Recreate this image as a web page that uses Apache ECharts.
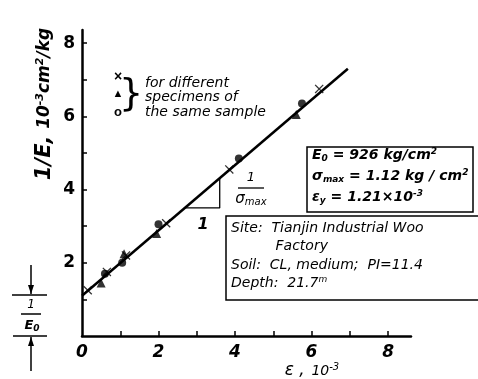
<!DOCTYPE html>
<html>
<head>
<meta charset="utf-8">
<script src="https://cdn.jsdelivr.net/npm/echarts@6/dist/echarts.min.js"></script>
<style>
html,body{margin:0;padding:0;background:#fff;}
#main{width:478px;height:379px;}
</style>
</head>
<body>
<div id="main"></div>
<script>
// strain (10^-3) vs 1/E (10^-3 cm2/kg)
var crossPts = [[0.15,1.25],[0.65,1.75],[1.15,2.2],[2.2,3.08],[3.85,4.55],[6.2,6.75]];
var trianglePts = [[0.5,1.45],[1.1,2.25],[1.95,2.8],[5.6,6.05]];
var circlePts = [[0.6,1.7],[1.05,2.0],[2.0,3.05],[4.1,4.85],[5.75,6.35]];
var fitLine = [[0,1.1],[6.95,7.3]];
var slopeTri = [[2.7,3.5],[3.6,3.5],[3.6,4.3]];
var xTicks = [1,2,3,4,5,6,7,8];
var xLabels = [0,2,4,6,8];
var yTicks = [1,2,3,4,5,6,7,8];
var yLabels = [2,4,6,8];

var hand = 'DejaVu Sans';
var crossPath = 'path://M1,0L5,4L9,0L10,1L6,5L10,9L9,10L5,6L1,10L0,9L4,5L0,1Z';

var chart = echarts.init(document.getElementById('main'));
chart.setOption({
    backgroundColor: '#fff',
    animation: false,
    grid: { left: 82, right: 67, top: 30, bottom: 43 },
    xAxis: {
        type: 'value',
        min: 0,
        max: 8.6,
        splitLine: { show: false },
        axisLine: { lineStyle: { color: '#000', width: 2.5 } },
        axisTick: { inside: true, length: 5, customValues: xTicks, lineStyle: { color: '#000', width: 1.5 } },
        axisLabel: {
            customValues: xLabels,
            margin: 8,
            color: '#000',
            fontFamily: hand,
            fontWeight: 'bold',
            fontStyle: 'italic',
            fontSize: 17
        }
    },
    yAxis: {
        type: 'value',
        min: 0,
        max: 8.36,
        splitLine: { show: false },
        axisLine: { lineStyle: { color: '#000', width: 2.5 } },
        axisTick: { inside: true, length: 5, customValues: yTicks, lineStyle: { color: '#000', width: 1.5 } },
        axisLabel: {
            customValues: yLabels,
            margin: 7,
            color: '#000',
            fontFamily: hand,
            fontWeight: 'bold',
            fontSize: 17
        }
    },
    series: [
        {
            type: 'line',
            data: fitLine,
            symbol: 'none',
            lineStyle: { color: '#000', width: 2.5 },
            z: 2
        },
        {
            type: 'line',
            data: slopeTri,
            symbol: 'none',
            lineStyle: { color: '#000', width: 1.3 },
            z: 2
        },
        {
            type: 'scatter',
            data: crossPts,
            symbol: crossPath,
            symbolSize: 9,
            itemStyle: { color: '#000' },
            z: 3
        },
        {
            type: 'scatter',
            data: trianglePts,
            symbol: 'triangle',
            symbolSize: 9,
            itemStyle: { color: '#000' },
            z: 3
        },
        {
            type: 'scatter',
            data: circlePts,
            symbol: 'circle',
            symbolSize: 8,
            itemStyle: { color: '#000' },
            z: 3
        }
    ],
    graphic: [
        // y axis name
        {
            type: 'text', x: 45, y: 104, rotation: Math.PI / 2, origin: [0, 0],
            style: {
                text: '{b|1/E,}  {n|10}{s|-3}{n|cm}{s|2}{n|/kg}',
                align: 'center', verticalAlign: 'middle',
                rich: {
                    b: { fontFamily: hand, fontStyle: 'italic', fontWeight: 'bold', fontSize: 21, fill: '#000' },
                    n: { fontFamily: hand, fontStyle: 'italic', fontWeight: 'bold', fontSize: 17, fill: '#000' },
                    s: { fontFamily: hand, fontStyle: 'italic', fontWeight: 'bold', fontSize: 11, fill: '#000', padding: [0, 0, 9, 0] }
                }
            }
        },
        // x axis name
        {
            type: 'text', x: 312, y: 371,
            style: {
                text: '{b|ε ,}  {n|10}{s|-3}',
                align: 'center', verticalAlign: 'middle',
                rich: {
                    b: { fontFamily: hand, fontStyle: 'italic', fontSize: 17, fill: '#000' },
                    n: { fontFamily: hand, fontStyle: 'italic', fontSize: 14, fill: '#000' },
                    s: { fontFamily: hand, fontStyle: 'italic', fontSize: 10, fill: '#000', padding: [0, 0, 8, 0] }
                }
            }
        },
        // specimen key
        { type: 'text', x: 118, y: 77, style: { text: '×', fontSize: 14, fontWeight: 'bold', fill: '#000', align: 'center', verticalAlign: 'middle' } },
        { type: 'text', x: 118, y: 94, style: { text: '▲', fontSize: 11, fill: '#000', align: 'center', verticalAlign: 'middle' } },
        { type: 'text', x: 118, y: 112, style: { text: 'o', fontSize: 13, fontWeight: 'bold', fill: '#000', align: 'center', verticalAlign: 'middle' } },
        { type: 'text', x: 131, y: 95, style: { text: '}', fontFamily: hand, fontSize: 38, fill: '#000', align: 'center', verticalAlign: 'middle' } },
        {
            type: 'text', x: 145, y: 76,
            style: {
                text: 'for different\nspecimens of\nthe same sample',
                fontFamily: hand, fontStyle: 'italic', fontSize: 14, lineHeight: 14.5, fill: '#000'
            }
        },
        // slope labels
        { type: 'text', x: 203, y: 225, style: { text: '1', fontFamily: hand, fontStyle: 'italic', fontWeight: 'bold', fontSize: 16, fill: '#000', align: 'center', verticalAlign: 'middle' } },
        { type: 'text', x: 251, y: 178, style: { text: '1', fontFamily: hand, fontStyle: 'italic', fontSize: 13, fill: '#000', align: 'center', verticalAlign: 'middle' } },
        { type: 'line', shape: { x1: 238, y1: 188, x2: 264, y2: 188 }, style: { stroke: '#000', lineWidth: 1.3 } },
        {
            type: 'text', x: 251, y: 199,
            style: {
                text: '{n|σ}{s|max}', align: 'center', verticalAlign: 'middle',
                rich: {
                    n: { fontFamily: hand, fontStyle: 'italic', fontSize: 15, fill: '#000' },
                    s: { fontFamily: hand, fontStyle: 'italic', fontSize: 10, fill: '#000', padding: [6, 0, 0, 0] }
                }
            }
        },
        // parameter box
        { type: 'rect', shape: { x: 307, y: 147, width: 166, height: 65 }, style: { fill: '#fff', stroke: '#000', lineWidth: 1.5 }, z: 10 },
        {
            type: 'text', x: 312, y: 145, z: 11,
            style: {
                text: '{n|E}{s|0}{n| = 926 kg/cm}{p|2}\n{n|σ}{s|max}{n| = 1.12 kg / cm}{p|2}\n{n|ε}{s|y}{n| = 1.21×10}{p|-3}',
                verticalAlign: 'top',
                rich: {
                    n: { fontFamily: hand, fontStyle: 'italic', fontWeight: 'bold', fontSize: 14, fill: '#000', lineHeight: 21 },
                    s: { fontFamily: hand, fontStyle: 'italic', fontWeight: 'bold', fontSize: 9, fill: '#000', padding: [6, 0, 0, 0], lineHeight: 21 },
                    p: { fontFamily: hand, fontStyle: 'italic', fontWeight: 'bold', fontSize: 9, fill: '#000', padding: [0, 0, 8, 0], lineHeight: 21 }
                }
            }
        },
        // site box
        { type: 'polyline', shape: { points: [[490, 216], [226, 216], [226, 300], [490, 300]] }, style: { fill: '#fff', stroke: '#000', lineWidth: 1.5 }, z: 10 },
        {
            type: 'text', x: 231, y: 219, z: 11,
            style: {
                text: '{n|Site:  Tianjin Industrial Woo}\n{n|          Factory}\n{n|Soil:  CL, medium;  PI=11.4}\n{n|Depth:  21.7}{p|m}',
                verticalAlign: 'top',
                rich: {
                    n: { fontFamily: hand, fontStyle: 'italic', fontSize: 14, fill: '#000', lineHeight: 18.5 },
                    p: { fontFamily: hand, fontStyle: 'italic', fontSize: 9, fill: '#000', padding: [0, 0, 8, 0], lineHeight: 18.5 }
                }
            }
        },
        // 1/E0 intercept marker on the left
        { type: 'line', shape: { x1: 12, y1: 295, x2: 47, y2: 295 }, style: { stroke: '#000', lineWidth: 1.5 } },
        { type: 'line', shape: { x1: 13, y1: 336, x2: 47, y2: 336 }, style: { stroke: '#000', lineWidth: 1.5 } },
        { type: 'line', shape: { x1: 21, y1: 314, x2: 41, y2: 314 }, style: { stroke: '#000', lineWidth: 1.5 } },
        { type: 'line', shape: { x1: 31, y1: 265, x2: 31, y2: 294 }, style: { stroke: '#000', lineWidth: 1.5 } },
        { type: 'polygon', shape: { points: [[28, 285], [34, 285], [31, 294]] }, style: { fill: '#000' } },
        { type: 'line', shape: { x1: 31, y1: 337, x2: 31, y2: 371 }, style: { stroke: '#000', lineWidth: 1.5 } },
        { type: 'polygon', shape: { points: [[28, 346], [34, 346], [31, 337]] }, style: { fill: '#000' } },
        { type: 'text', x: 31, y: 305, style: { text: '1', fontFamily: hand, fontStyle: 'italic', fontSize: 12, fill: '#000', align: 'center', verticalAlign: 'middle' } },
        {
            type: 'text', x: 32, y: 326,
            style: {
                text: '{n|E}{s|0}', align: 'center', verticalAlign: 'middle',
                rich: {
                    n: { fontFamily: hand, fontStyle: 'italic', fontWeight: 'bold', fontSize: 13, fill: '#000' },
                    s: { fontFamily: hand, fontStyle: 'italic', fontWeight: 'bold', fontSize: 9, fill: '#000', padding: [5, 0, 0, 0] }
                }
            }
        }
    ]
});
</script>
</body>
</html>
